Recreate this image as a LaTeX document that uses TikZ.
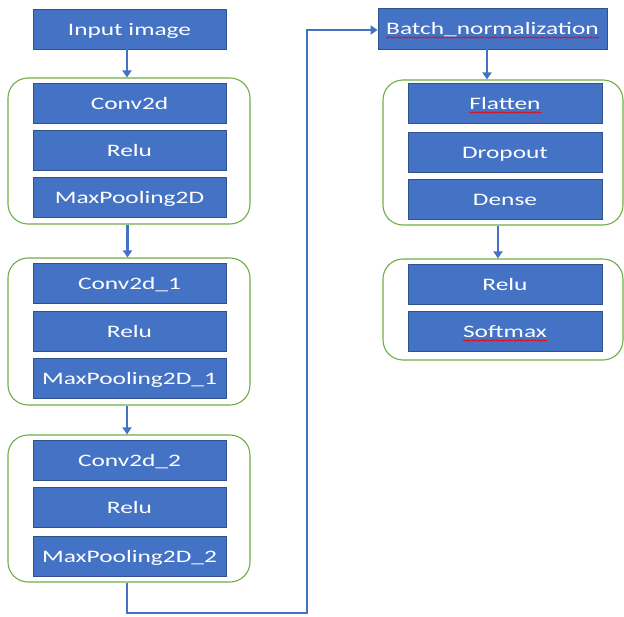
\documentclass[tikz,border=0pt]{standalone}
\usepackage{fontspec}
\setmainfont[FakeStretch=1.45]{Carlito}
\usetikzlibrary{arrows.meta,decorations.pathmorphing,calc}
\definecolor{boxblue}{HTML}{4472C4}
\definecolor{boxedge}{HTML}{2F528F}
\definecolor{grpgreen}{HTML}{70AD47}

\begin{document}
\begin{tikzpicture}[x=1pt,y=-1pt,
  boxfont/.style={font=\fontsize{17.5}{20}\selectfont,text height=12pt,text depth=0pt},
  blk/.style={boxfont,draw=boxedge,line width=0.8pt,fill=boxblue,text=white,
    minimum width=193pt,minimum height=40pt,inner sep=0pt},
  lbl/.style={boxfont,text=white,inner sep=0pt},
  grp/.style={draw=grpgreen,line width=1.1pt,rounded corners=20pt,
    minimum width=242pt,minimum height=146pt,inner sep=0pt},
  arr/.style={draw=boxblue,line width=2.4pt,-{Triangle[length=7pt,width=9pt]}},
  wave/.style={draw=red,line width=0.6pt,decorate,
    decoration={snake,amplitude=0.6pt,segment length=2.4pt}}]
\useasboundingbox (0,0) rectangle (624,616);

% left column
\node[blk] (in) at (129.5,29) {Input image};

\node[grp] (g1) at (129,151) {};
\node[blk] (c1) at (129.5,103) {Conv2d};
\node[blk] (r1) at (129.5,150) {Relu};
\node[blk] (p1) at (129.5,197) {MaxPooling2D};

\node[grp,minimum height=147pt] (g2) at (129,331.5) {};
\node[blk] (c2) at (129.5,283) {Conv2d\_1};
\node[blk] (r2) at (129.5,331) {Relu};
\node[blk] (p2) at (129.5,378.5) {MaxPooling2D\_1};

\node[grp,minimum height=147pt] (g3) at (129,508.5) {};
\node[blk] (c3) at (129.5,460.5) {Conv2d\_2};
\node[blk] (r3) at (129.5,507.5) {Relu};
\node[blk] (p3) at (129.5,556) {MaxPooling2D\_2};

% right column
\node[blk,minimum width=229pt,minimum height=41pt] (bn) at (492.5,28.5) {};
\node[lbl] (bn-t) at (bn) {Batch\_normalization};

\node[grp,minimum width=240pt,minimum height=145pt] (g4) at (503,152.5) {};
\node[blk,minimum width=194pt] (fl) at (505,103.5) {};
\node[lbl] (fl-t) at (fl) {Flatten};
\node[blk,minimum width=194pt] (dr) at (505,152) {Dropout};
\node[blk,minimum width=194pt] (de) at (505,199) {Dense};

\node[grp,minimum width=240pt,minimum height=101pt] (g5) at (503,309.5) {};
\node[blk,minimum width=194pt] (r4) at (505,284.5) {Relu};
\node[blk,minimum width=194pt] (sm) at (505,331.5) {};
\node[lbl] (sm-t) at (sm) {Softmax};

% spell-check underlines
\foreach \t in {bn-t,fl-t,sm-t}
  \draw[wave] ([yshift=-3pt]\t.base west) -- ([yshift=-3pt]\t.base east);

% connectors
\draw[arr] ([xshift=-2.5pt]in.south) -- ([xshift=-2.5pt]in.south |- g1.north);
\draw[arr] ([xshift=-1.5pt]g1.south) -- ([xshift=-1.5pt]g1.south |- g2.north);
\draw[arr] ([xshift=-2pt]g2.south) -- ([xshift=-2pt]g2.south |- g3.north);
\coordinate (low) at (307,613);
\draw[arr] ([xshift=-2pt]g3.south) |- (low) |- ([yshift=-1.5pt]bn.west);
\draw[arr] ([xshift=-5.5pt]bn.south) -- ([xshift=-5.5pt]bn.south |- g4.north);
\draw[arr] ([xshift=-5pt]g4.south) -- ([xshift=-5pt]g4.south |- g5.north);
\end{tikzpicture}
\end{document}
